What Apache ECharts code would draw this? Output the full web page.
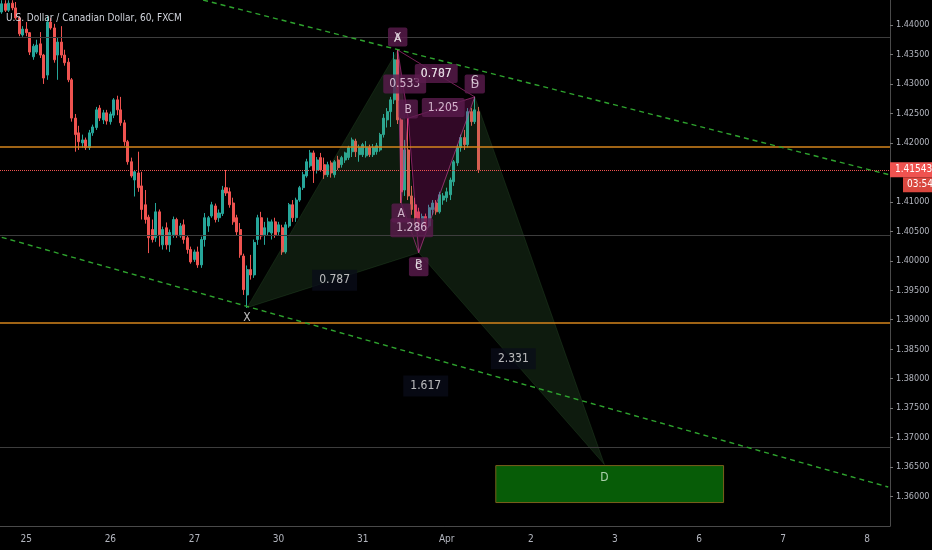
<!DOCTYPE html>
<html>
<head>
<meta charset="utf-8">
<title>USDCAD 60</title>
<script src="https://cdn.jsdelivr.net/npm/echarts/dist/echarts.min.js"></script>
<style>
  html, body { margin: 0; padding: 0; background: #000; }
  #main { width: 932px; height: 550px; }
</style>
</head>
<body>
<div id="main"></div>
<script>
// hourly slots on the time axis, day labels sit on these slots
var SLOTS = 254;
var dayTicks  = [7, 31, 55, 79, 103, 127, 151, 175, 199, 223, 247];
var dayLabels = ['25', '26', '27', '30', '31', 'Apr', '2', '3', '6', '7', '8'];

// candles (one per hour)
var opens = [
  1.4422,1.4436,1.4425,1.4437,1.4429,1.4412,1.4383,1.4393,1.4387,1.4346,
  1.4354,1.4368,1.4349,1.4315,1.4405,1.4395,1.4349,1.4371,1.4349,1.4337,
  1.4307,1.4242,1.4217,1.4200,1.4205,1.4192,1.4217,1.4226,1.4259,1.4239,
  1.4251,1.4236,1.4247,1.4273,1.4256,1.4234,1.4202,1.4168,1.4137,1.4149,
  1.4127,1.4095,1.4074,1.4053,1.4039,1.4083,1.4027,1.4056,1.4027,1.4044,
  1.4070,1.4042,1.4061,1.4039,1.4019,1.4002,1.4015,1.3993,1.4036,1.4059,
  1.4076,1.4093,1.4073,1.4080,1.4124,1.4117,1.4098,1.4073,1.4053,1.4008,
  1.3942,1.3985,1.3976,1.4036,1.4073,1.4044,1.4049,1.4047,1.4066,1.4049,
  1.4056,1.4015,1.4059,1.4095,1.4073,1.4103,1.4124,1.4144,1.4161,1.4183,
  1.4154,1.4175,1.4163,1.4146,1.4166,1.4146,1.4171,1.4163,1.4171,1.4175,
  1.4185,1.4203,1.4180,1.4180,1.4178,1.4192,1.4180,1.4185,1.4188,1.4214,
  1.4239,1.4253,1.4273,1.4341,1.4239,1.4120,1.4188,1.4110,1.4095,1.4083,
  1.4063,1.4075,1.4059,1.4087,1.4098,1.4083,1.4103,1.4107,1.4112,1.4134,
  1.4166,1.4192,1.4209,1.4197,1.4253,1.4236,1.4253
];
var closes = [
  1.4436,1.4425,1.4437,1.4429,1.4412,1.4385,1.4393,1.4387,1.4354,1.4364,
  1.4366,1.4349,1.4310,1.4405,1.4395,1.4341,1.4371,1.4349,1.4336,1.4307,
  1.4242,1.4214,1.4202,1.4205,1.4192,1.4217,1.4227,1.4256,1.4242,1.4251,
  1.4237,1.4249,1.4273,1.4256,1.4234,1.4202,1.4168,1.4144,1.4151,1.4124,
  1.4087,1.4070,1.4039,1.4036,1.4083,1.4044,1.4053,1.4027,1.4048,1.4070,
  1.4044,1.4059,1.4036,1.4019,1.3998,1.4015,1.3993,1.4036,1.4073,1.4073,
  1.4095,1.4070,1.4081,1.4120,1.4115,1.4095,1.4066,1.4049,1.4010,1.3951,
  1.3985,1.3976,1.4031,1.4073,1.4042,1.4056,1.4066,1.4066,1.4044,1.4061,
  1.4015,1.4061,1.4095,1.4073,1.4103,1.4124,1.4146,1.4168,1.4183,1.4154,
  1.4171,1.4154,1.4146,1.4163,1.4149,1.4168,1.4158,1.4175,1.4183,1.4192,
  1.4205,1.4185,1.4192,1.4197,1.4192,1.4180,1.4192,1.4195,1.4214,1.4242,
  1.4253,1.4273,1.4341,1.4239,1.4117,1.4188,1.4110,1.4087,1.4073,1.4063,
  1.4075,1.4059,1.4090,1.4098,1.4083,1.4112,1.4110,1.4117,1.4137,1.4168,
  1.4192,1.4209,1.4197,1.4253,1.4236,1.4256,1.41543
];
var lows = [
  1.4419,1.4422,1.4422,1.4425,1.4409,1.4381,1.4380,1.4381,1.4349,1.4341,
  1.4351,1.4344,1.4300,1.4307,1.4392,1.4336,1.4307,1.4344,1.4331,1.4303,
  1.4236,1.4185,1.4188,1.4192,1.4188,1.4188,1.4212,1.4222,1.4237,1.4232,
  1.4231,1.4231,1.4242,1.4247,1.4229,1.4195,1.4163,1.4141,1.4109,1.4117,
  1.4070,1.4063,1.4013,1.4031,1.4032,1.4024,1.4019,1.4019,1.4015,1.4039,
  1.4039,1.4039,1.4029,1.4012,1.3995,1.3998,1.3988,1.3988,1.4024,1.4049,
  1.4073,1.4065,1.4066,1.4076,1.4110,1.4090,1.4061,1.4042,1.4005,1.3942,
  1.3920,1.3968,1.3971,1.4027,1.4036,1.4027,1.4042,1.4036,1.4039,1.4042,
  1.4010,1.4012,1.4056,1.4066,1.4066,1.4100,1.4120,1.4141,1.4158,1.4132,
  1.4148,1.4151,1.4139,1.4142,1.4141,1.4141,1.4154,1.4158,1.4166,1.4171,
  1.4176,1.4176,1.4168,1.4176,1.4175,1.4176,1.4176,1.4180,1.4185,1.4209,
  1.4226,1.4227,1.4266,1.4232,1.4098,1.4110,1.4103,1.4078,1.4061,1.4056,
  1.4053,1.4053,1.4056,1.4078,1.4078,1.4080,1.4095,1.4100,1.4103,1.4127,
  1.4161,1.4185,1.4188,1.4192,1.4229,1.4232,1.4149
];
var highs = [
  1.4442,1.4442,1.4442,1.4442,1.4439,1.4415,1.4398,1.4405,1.4388,1.4368,
  1.4375,1.4388,1.4351,1.4415,1.4412,1.4402,1.4378,1.4398,1.4358,1.4344,
  1.4310,1.4249,1.4229,1.4214,1.4209,1.4222,1.4231,1.4261,1.4264,1.4256,
  1.4256,1.4253,1.4276,1.4280,1.4278,1.4239,1.4205,1.4175,1.4154,1.4185,
  1.4151,1.4120,1.4078,1.4070,1.4098,1.4087,1.4058,1.4065,1.4053,1.4075,
  1.4073,1.4064,1.4070,1.4042,1.4024,1.4019,1.4024,1.4041,1.4081,1.4076,
  1.4100,1.4097,1.4087,1.4127,1.4154,1.4124,1.4107,1.4078,1.4064,1.4012,
  1.3992,1.4010,1.4036,1.4078,1.4083,1.4066,1.4073,1.4070,1.4073,1.4066,
  1.4061,1.4066,1.4098,1.4103,1.4107,1.4127,1.4151,1.4173,1.4188,1.4187,
  1.4176,1.4183,1.4175,1.4168,1.4170,1.4171,1.4178,1.4178,1.4185,1.4195,
  1.4209,1.4207,1.4197,1.4200,1.4203,1.4197,1.4198,1.4200,1.4217,1.4249,
  1.4259,1.4278,1.4354,1.4358,1.4242,1.4205,1.4242,1.4127,1.4107,1.4090,
  1.4080,1.4080,1.4095,1.4103,1.4103,1.4117,1.4115,1.4124,1.4141,1.4171,
  1.4197,1.4214,1.4222,1.4259,1.4259,1.4278,1.4261
];

var lastPrice = 1.41543;
var countdown = '03:54';
var title = 'U.S. Dollar / Canadian Dollar, 60, FXCM';

// drawn horizontal levels
var grayLevels   = [1.43797, 1.40441, 1.36831];
var orangeLevels = [1.41933, 1.38949];

// channel trendlines [slot, price]
var upperChannel = [[50, 1.44536], [253, 1.41463]];
var lowerChannel = [[0, 1.40398], [253, 1.36161]];

// harmonic patterns: points X A B C D as [slot, price]
var pointNames = ['X', 'A', 'B', 'C', 'D'];
var bigPts   = [[70, 1.39204], [113, 1.43576], [119, 1.40136], [135, 1.4278], [172, 1.36543]];
var smallPts = [[113, 1.43576], [114, 1.4098], [116, 1.4242], [119, 1.40136], [135, 1.4278]];
// ratio labels: [from point, to point, text]
var bigRatios   = [[0, 2, '0.787'], [2, 4, '2.331'], [0, 4, '1.617'], [1, 3, '0.707']];
var smallRatios = [[0, 2, '0.533'], [1, 3, '1.286'], [2, 4, '1.205'], [0, 4, '0.787']];
// projected D zone [slot, price] corners
var targetZone = [[141, 1.36525], [206, 1.35898]];

var NARROW = "'Liberation Sans Narrow','DejaVu Sans Condensed','Arial Narrow',sans-serif";

var cats = [];
for (var s = 0; s < SLOTS; s++) {
  var k = dayTicks.indexOf(s);
  cats.push(k >= 0 ? dayLabels[k] : '');
}
var candles = opens.map(function (o, i) { return [o, closes[i], lows[i], highs[i]]; });

function tri(pts, a, b, c) {
  return [pts[a][0], pts[a][1], pts[b][0], pts[b][1], pts[c][0], pts[c][1]];
}
function seg(pts, a, b) {
  return [pts[a][0], pts[a][1], pts[b][0], pts[b][1]];
}
function triRender(fill, stroke, width) {
  return function (params, api) {
    var p = [0, 1, 2].map(function (k) { return api.coord([api.value(2 * k), api.value(2 * k + 1)]); });
    return { type: 'polygon', shape: { points: p }, style: { fill: fill, stroke: stroke, lineWidth: width } };
  };
}
function segRender(color, width) {
  return function (params, api) {
    var a = api.coord([api.value(0), api.value(1)]);
    var b = api.coord([api.value(2), api.value(3)]);
    return { type: 'line', shape: { x1: a[0], y1: a[1], x2: b[0], y2: b[1] }, style: { stroke: color, lineWidth: width } };
  };
}

var purpleBox = { backgroundColor: '#5b1c4e', color: '#f2dcee', padding: [4, 6, 3, 6], borderRadius: 2, fontSize: 12, fontFamily: NARROW };
var plainText = { color: '#e8e8e8', fontSize: 12, fontFamily: NARROW };
var darkBox   = { backgroundColor: 'rgba(10,12,26,0.92)', color: '#e6e6e6', padding: [5, 7, 4, 7], fontSize: 12, fontFamily: NARROW };

// where each point label sits relative to its point
var smallSide = [['top', 3, [0, 0]], ['bottom', 0, [-4, 0]], ['top', -1, [0, 0]], ['bottom', 4, [0, 0]], ['top', 3, [0, 0]]];
var bigSide   = [['bottom', 4, [0, 0]], ['top', 5, [0, 0]], ['bottom', 6, [0, 0]], ['top', 10, [4, 0]], ['bottom', 7, [0, 0]]];
var smallRatioShift = [[0, 2], [0, 3], [0, 2], [0, 0]];

var labelData = [];
smallRatios.forEach(function (r, j) {
  var a = smallPts[r[0]], b = smallPts[r[1]];
  labelData.push({ value: [(a[0] + b[0]) / 2, (a[1] + b[1]) / 2], label: Object.assign({ show: true, position: 'inside', offset: smallRatioShift[j], formatter: r[2] }, purpleBox) });
});
smallPts.forEach(function (p, i) {
  labelData.push({ value: p, label: Object.assign({ show: true, position: smallSide[i][0], distance: smallSide[i][1], offset: smallSide[i][2], formatter: pointNames[i] }, purpleBox) });
});
bigPts.forEach(function (p, i) {
  var st = Object.assign({ show: true, position: bigSide[i][0], distance: bigSide[i][1], offset: bigSide[i][2], formatter: pointNames[i] }, plainText);
  if (i === 4) st.color = '#d8efd8';
  labelData.push({ value: p, label: st });
});
bigRatios.forEach(function (r) {
  var a = bigPts[r[0]], b = bigPts[r[1]];
  var st = r[2] === '0.707'
    ? Object.assign({ show: true, position: 'inside', formatter: r[2], offset: [0, -3] }, plainText)
    : Object.assign({ show: true, position: 'inside', formatter: r[2] }, darkBox);
  labelData.push({ value: [(a[0] + b[0]) / 2, (a[1] + b[1]) / 2], label: st });
});

var levelLines = [];
grayLevels.forEach(function (v) { levelLines.push({ yAxis: v, lineStyle: { color: '#3d3d3d', width: 1, type: 'solid' } }); });
orangeLevels.forEach(function (v) { levelLines.push({ yAxis: v, lineStyle: { color: '#d4841c', width: 1.5, type: 'solid' } }); });
levelLines.push({
  yAxis: lastPrice,
  lineStyle: { color: '#ef5350', width: 1, type: 'dotted' },
  label: { show: true, position: 'end', distance: 0, formatter: lastPrice.toFixed(5), backgroundColor: '#ef5350', color: '#fff', padding: [3, 5, 2, 5], fontSize: 10, fontFamily: NARROW }
});

var chart = echarts.init(document.getElementById('main'));

var option = {
  backgroundColor: '#000',
  animation: false,
  title: {
    text: title, left: 1, top: 8,
    textStyle: { color: '#d1d4dc', fontSize: 10, fontWeight: 'normal', fontFamily: NARROW }
  },
  grid: { left: 0, right: 42, top: 0, bottom: 24, containLabel: false, outerBoundsMode: 'none' },
  xAxis: {
    type: 'category', data: cats, boundaryGap: true,
    axisLine: { lineStyle: { color: '#4a4a4a' } },
    axisTick: { alignWithLabel: true, length: 3, interval: function (i) { return cats[i] !== ''; }, lineStyle: { color: '#777' } },
    axisLabel: { interval: function (i) { return cats[i] !== ''; }, color: '#b2b5be', fontSize: 10, margin: 8, fontFamily: NARROW },
    splitLine: { show: false }
  },
  yAxis: {
    type: 'value', position: 'right', min: 1.355, max: 1.44424, interval: 0.005,
    axisLine: { show: true, lineStyle: { color: '#4a4a4a' } },
    axisTick: { show: true, length: 3, lineStyle: { color: '#777' } },
    splitLine: { show: false },
    axisLabel: {
      color: '#b2b5be', fontSize: 9, margin: 6, fontFamily: NARROW,
      showMinLabel: false, showMaxLabel: false,
      formatter: function (v) { return v.toFixed(5); }
    }
  },
  series: [
    {
      type: 'candlestick', data: candles, barWidth: '72%', z: 2,
      itemStyle: { color: '#26a69a', color0: '#ef5350', borderColor: '#26a69a', borderColor0: '#ef5350', borderWidth: 1 },
      markLine: { symbol: ['none', 'none'], precision: 5, silent: true, animation: false, label: { show: false }, data: levelLines }
    },
    {
      // countdown tag under the last price, carried by an invisible level line
      type: 'line', data: [], silent: true, z: 7,
      markLine: {
        symbol: ['none', 'none'], precision: 5, silent: true, animation: false,
        data: [{
          yAxis: lastPrice,
          lineStyle: { color: 'rgba(0,0,0,0)', width: 0 },
          label: { show: true, position: 'end', distance: 13, offset: [0, 15], formatter: countdown, backgroundColor: '#d9473f', color: '#fff', padding: [3, 4, 2, 4], fontSize: 10, fontFamily: NARROW }
        }]
      }
    },
    {
      type: 'custom', silent: true, z: 3, encode: { x: [0, 2, 4], y: [1, 3, 5] },
      renderItem: triRender('rgba(90,170,90,0.16)', 'rgba(90,170,90,0.25)', 0.6),
      data: [tri(bigPts, 0, 1, 2), tri(bigPts, 2, 3, 4)]
    },
    {
      type: 'custom', silent: true, z: 4, encode: { x: [0, 2, 4], y: [1, 3, 5] },
      renderItem: triRender('rgba(175,30,135,0.28)', 'rgba(214,60,160,0.7)', 0.8),
      data: [tri(smallPts, 0, 1, 2), tri(smallPts, 2, 3, 4)]
    },
    {
      type: 'custom', silent: true, z: 4, encode: { x: [0, 2], y: [1, 3] },
      renderItem: segRender('rgba(214,60,160,0.7)', 0.8),
      data: [seg(smallPts, 0, 4), seg(smallPts, 1, 3)]
    },
    {
      type: 'custom', silent: true, z: 3, encode: { x: [0, 2], y: [1, 3] },
      renderItem: function (params, api) {
        var a = api.coord([api.value(0), api.value(1)]);
        var b = api.coord([api.value(2), api.value(3)]);
        return { type: 'rect', shape: { x: a[0], y: a[1], width: b[0] - a[0], height: b[1] - a[1] },
                 style: { fill: '#075c07', stroke: '#7a5f1c', lineWidth: 1 } };
      },
      data: [[targetZone[0][0], targetZone[0][1], targetZone[1][0], targetZone[1][1]]]
    },
    {
      type: 'line', data: upperChannel, symbol: 'none', silent: true, z: 5,
      lineStyle: { color: '#2ea32e', width: 1.4, type: [5, 4] }
    },
    {
      type: 'line', data: lowerChannel, symbol: 'none', silent: true, z: 5,
      lineStyle: { color: '#2ea32e', width: 1.4, type: [5, 4] }
    },
    {
      type: 'scatter', data: labelData, symbol: 'circle', symbolSize: 1, silent: true, z: 6,
      itemStyle: { color: 'rgba(0,0,0,0)' },
      labelLayout: { hideOverlap: false }
    }
  ]
};

chart.setOption(option);
</script>
</body>
</html>
